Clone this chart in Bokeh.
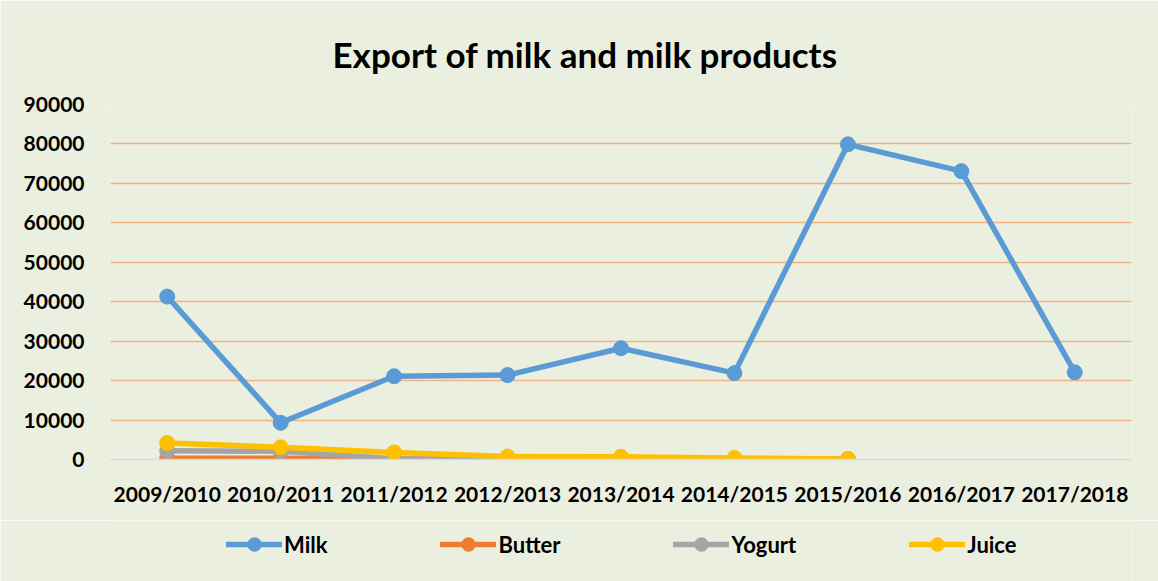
from bokeh.plotting import figure
from bokeh.layouts import column
from bokeh.models import Range1d, FactorRange, FixedTicker, Legend, LegendItem, NumeralTickFormatter
from bokeh.embed import file_html
from bokeh.resources import INLINE

years = ["2009/2010", "2010/2011", "2011/2012", "2012/2013", "2013/2014",
         "2014/2015", "2015/2016", "2016/2017", "2017/2018"]
milk = [41300, 9300, 21100, 21400, 28200, 21900, 79900, 73100, 22100]
butter = [300, 300, 100, 50, 150, 80, 50]
yogurt = [2200, 2100, 200, 100, 250, 150, 80]
juice = [4200, 3100, 1800, 750, 700, 400, 150]
y_ticks = [0, 10000, 20000, 30000, 40000, 50000, 60000, 70000, 80000, 90000]

BG = "#EBEFDF"
FONT = "Lato"

p = figure(width=1158, height=520, x_range=FactorRange(*years),
           y_range=Range1d(0, 90000), output_backend="svg",
           toolbar_location=None, min_border_left=110, min_border_right=27,
           min_border_top=104, min_border_bottom=61,
           title="Export of milk and milk products")
p.background_fill_color = BG
p.border_fill_color = BG
p.outline_line_color = None

p.title.text_font = FONT
p.title.text_font_size = "35px"
p.title.text_font_style = "bold"
p.title.text_color = "#000000"
p.title.align = "left"
p.title.offset = 222
p.title.text_line_height = 1.0
p.title.standoff = 60

p.xgrid.grid_line_color = None
p.ygrid.ticker = FixedTicker(ticks=y_ticks[1:])
p.ygrid.grid_line_color = "#F4B183"
p.ygrid.grid_line_width = 1.5

p.yaxis.ticker = FixedTicker(ticks=y_ticks)
p.yaxis.formatter = NumeralTickFormatter(format="0")
p.yaxis.axis_line_color = None
p.yaxis.major_tick_line_color = None
p.yaxis.minor_tick_line_color = None
p.yaxis.major_label_standoff = 20
for ax in (p.xaxis[0], p.yaxis[0]):
    ax.major_label_text_font = FONT
    ax.major_label_text_font_size = "21px"
    ax.major_label_text_font_style = "bold"
    ax.major_label_text_color = "#000000"

p.xaxis.axis_line_color = "#D9D9D9"
p.xaxis.axis_line_width = 1.5
p.xaxis.major_tick_line_color = None
p.xaxis.minor_tick_line_color = None
p.xaxis.major_label_standoff = 15

series = [("Milk", years, milk, "#5B9BD5"),
          ("Butter", years[:7], butter, "#ED7D31"),
          ("Yogurt", years[:7], yogurt, "#A5A5A5"),
          ("Juice", years[:7], juice, "#FFC000")]

# legend strip below the chart: same series, drawn outside its visible y-range
q = figure(width=1158, height=61, x_range=p.x_range, y_range=Range1d(-200000, -190000),
           output_backend="svg", toolbar_location=None, min_border=0,
           min_border_left=110, min_border_right=27)
q.axis.visible = False
q.grid.visible = False
q.background_fill_color = BG
q.border_fill_color = BG
q.outline_line_color = None

items = []
for name, xs, ys, col in series:
    p.line(xs, ys, line_color=col, line_width=5.5, line_join="round", line_cap="round")
    p.scatter(xs, ys, size=15, fill_color=col, line_color=col)
    ql = q.line(xs, ys, line_color=col, line_width=5.5, line_cap="round")
    qs = q.scatter(xs, ys, size=15, fill_color=col, line_color=col)
    items.append(LegendItem(label=name, renderers=[ql, qs]))

legend = Legend(items=items, orientation="horizontal", location=(116, 20),
                background_fill_alpha=0, border_line_color=None,
                label_text_font=FONT, label_text_font_size="22px",
                label_text_font_style="bold", label_text_color="#000000",
                glyph_width=56, glyph_height=34, label_standoff=2, spacing=113,
                margin=0, padding=0)
q.add_layout(legend, "center")

layout = column(p, q, spacing=0)
open("out.html", "w").write(file_html(layout, INLINE))
